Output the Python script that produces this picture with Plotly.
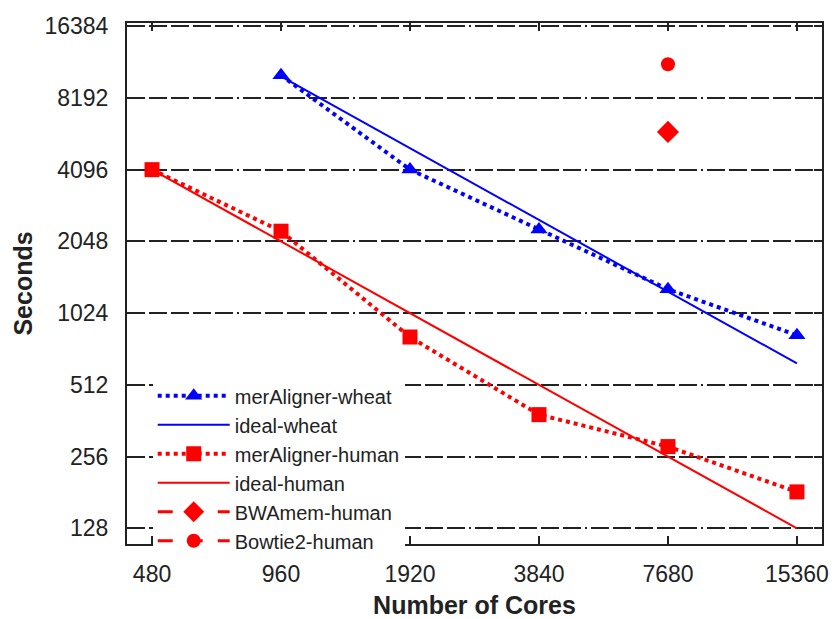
import plotly.graph_objects as go
import math

cores = [480, 960, 1920, 3840, 7680, 15360]
wheat_cores = [960, 1920, 3840, 7680, 15360]
meraligner_wheat = [10200, 4100, 2300, 1290, 827]
ideal_wheat = [10080 * 960 / c for c in wheat_cores]
meraligner_human = [4096, 2260, 813, 384, 282, 182]
ideal_human = [4096 * 480 / c for c in cores]
bwamem_cores = [7680]
bwamem_human = [5900]
bowtie2_cores = [7680]
bowtie2_human = [11350]

x_ticks = [480, 960, 1920, 3840, 7680, 15360]
y_ticks = [128, 256, 512, 1024, 2048, 4096, 8192, 16384]

BLUE = "#0000ff"
RED = "#ff0000"
FONT = "Liberation Sans, Arial"

fig = go.Figure()
fig.add_trace(go.Scatter(x=wheat_cores, y=meraligner_wheat, name="merAligner-wheat",
                         mode="lines+markers",
                         line=dict(color=BLUE, width=4, dash="dot"),
                         marker=dict(symbol="triangle-up", size=15, color=BLUE)))
fig.add_trace(go.Scatter(x=wheat_cores, y=ideal_wheat, name="ideal-wheat",
                         mode="lines", line=dict(color=BLUE, width=2)))
fig.add_trace(go.Scatter(x=cores, y=meraligner_human, name="merAligner-human",
                         mode="lines+markers",
                         line=dict(color=RED, width=4, dash="dot"),
                         marker=dict(symbol="square", size=15, color=RED)))
fig.add_trace(go.Scatter(x=cores, y=ideal_human, name="ideal-human",
                         mode="lines", line=dict(color=RED, width=2)))
fig.add_trace(go.Scatter(x=bwamem_cores, y=bwamem_human, name="BWAmem-human",
                         mode="lines+markers",
                         line=dict(color=RED, width=3, dash="longdash"),
                         marker=dict(symbol="diamond", size=17, color=RED)))
fig.add_trace(go.Scatter(x=bowtie2_cores, y=bowtie2_human, name="Bowtie2-human",
                         mode="lines+markers",
                         line=dict(color=RED, width=3, dash="longdash"),
                         marker=dict(symbol="circle", size=14, color=RED)))

grid_dash = "18px,4px,18px,4px,18px,4px,18px,4px,18px,4px,2px,4px"

fig.update_xaxes(type="log", range=[math.log10(419.6), math.log10(17574)],
                 tickvals=x_ticks, ticktext=[str(v) for v in x_ticks],
                 ticks="inside", ticklen=8, tickwidth=2, tickcolor="#222",
                 showline=True, linecolor="#222", linewidth=2, mirror="ticks",
                 showgrid=False, zeroline=False, automargin=False,
                 ticklabelstandoff=8,
                 tickfont=dict(family=FONT, size=23, color="#222"),
                 title=dict(text="<b>Number of Cores</b>", standoff=12,
                            font=dict(family=FONT, size=25, color="#222")))
fig.update_yaxes(type="log", range=[math.log10(110), math.log10(16900)],
                 tickvals=y_ticks, ticktext=[str(v) for v in y_ticks],
                 ticks="inside", ticklen=8, tickwidth=2, tickcolor="#222",
                 showline=True, linecolor="#222", linewidth=2, mirror="ticks",
                 showgrid=True, gridcolor="#222", gridwidth=2, griddash=grid_dash,
                 zeroline=False, automargin=False,
                 ticklabelstandoff=12,
                 tickfont=dict(family=FONT, size=23, color="#222"),
                 title=dict(text="<b>Seconds</b>", standoff=5,
                            font=dict(family=FONT, size=25, color="#222")))

fig.update_layout(
    width=829, height=611,
    margin=dict(l=119, r=15, t=15, b=75),
    plot_bgcolor="white", paper_bgcolor="white",
    legend=dict(x=0.037, y=0.322, xanchor="left", yanchor="top",
                bgcolor="white", borderwidth=0,
                font=dict(family=FONT, size=20, color="#222"),
                tracegroupgap=0, itemwidth=72),
)

fig.write_html("out.html")
